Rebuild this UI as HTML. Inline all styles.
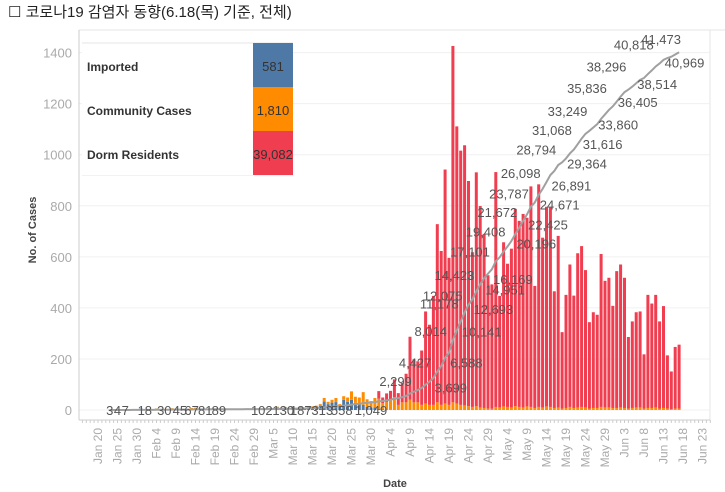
<!DOCTYPE html>
<html><head><meta charset="utf-8"><style>
body{margin:0;background:#fff;width:725px;height:492px;overflow:hidden}
svg{display:block}
text{font-family:"Liberation Sans","Noto Sans CJK KR",sans-serif}
</style></head><body>
<svg id="chart" width="725" height="492" viewBox="0 0 725 492" xmlns="http://www.w3.org/2000/svg">
<text x="8" y="17" font-size="15" fill="#222">☐ 코로나19 감염자 동향(6.18(목) 기준, 전체)</text>
<g id="grid"></g>
<g id="bars"></g>
<g id="line"></g>
<g id="labels"></g>
<g id="axes"></g>
<g>
<line x1="82" y1="43" x2="293" y2="43" stroke="#e4e4e4"/>
<line x1="82" y1="175" x2="293" y2="175" stroke="#e4e4e4"/>
<rect x="82" y="44" width="171" height="131" fill="#fff"/>
<rect x="253" y="43" width="40" height="44" fill="#4e79a7"/>
<rect x="253" y="87" width="40" height="44" fill="#ff8c00"/>
<rect x="253" y="131" width="40" height="44" fill="#f03e50"/>
<text x="87" y="71" font-size="12" font-weight="bold" fill="#333">Imported</text>
<text x="87" y="115" font-size="12" font-weight="bold" fill="#333">Community Cases</text>
<text x="87" y="159" font-size="12" font-weight="bold" fill="#333">Dorm Residents</text>
<text x="273" y="71" font-size="13" text-anchor="middle" fill="#333">581</text>
<text x="273" y="115" font-size="13" text-anchor="middle" fill="#333">1,810</text>
<text x="273" y="159" font-size="13" text-anchor="middle" fill="#333">39,082</text>
</g>
<text transform="translate(36,230) rotate(-90)" font-size="11" font-weight="bold" fill="#444" text-anchor="middle">No. of Cases</text>
<text x="395" y="487" font-size="11" font-weight="bold" fill="#444" text-anchor="middle">Date</text>
</svg>
<script>
// first bar = Jan 23 (day 3 after Jan 20)
const startDay = 3;
const imported = [
1,2,1,0,1,2,3,0,6,
0,0,0,0,0,0,0,0,0,0,0,0,0,0,0,0,0,0,0,0,0,0,0,0,0,0,0,0,0,
0,0,0,0,2,5,3,4,0,5,3,6,5,8,10,12,17,33,23,29,31,15,40,32,40,28,24,20,12,8,10,
4,2,1,1,0,0,0,0,0,0,0,0,0,0,0,0,0,0,0,0,0,0,0,0,0,0,0,0,0,0,
0,0,0,0,0,0,0,0,0,0,0,0,0,0,0,0,0,0,0,0,0,0,0,0,0,0,0,0,0,0,0,
0,0,0,0,0,0,0,0,0,0,0,0,0,0,0,0,0];
const community = [
0,0,0,0,0,0,0,0,0,
2,0,0,6,4,2,3,7,3,2,2,3,8,9,5,3,2,4,3,1,1,3,0,1,1,2,2,3,0,
4,2,2,2,5,8,5,8,0,5,3,6,4,4,4,5,6,14,9,11,16,8,14,17,33,24,25,50,30,27,37,
40,25,30,40,50,20,30,30,40,30,30,20,25,20,20,30,20,25,20,30,25,20,18,15,12,15,10,8,6,5,
12,10,14,12,10,15,12,10,14,12,8,12,10,14,12,8,10,6,8,12,8,10,12,10,6,8,8,12,10,10,8,
8,10,8,6,8,10,10,6,8,8,10,6,8,6,4,6,6];
const dorm = [
0,0,0,0,0,0,0,0,0,
0,0,0,0,0,0,0,0,0,0,0,0,0,0,0,0,0,0,0,0,0,0,0,0,0,0,0,0,0,
0,0,0,0,0,0,0,0,0,0,0,0,0,0,0,0,0,0,0,0,0,0,0,0,0,0,0,0,0,0,0,
30,22,34,34,70,46,76,112,247,168,161,213,361,314,427,698,603,917,576,1396,1086,996,1019,882,606,916,789,682,522,487,
920,437,643,561,622,773,729,758,739,864,478,872,665,782,781,457,672,299,443,558,440,604,630,538,338,375,365,599,496,508,400,
536,560,510,280,339,373,376,212,443,409,441,341,399,208,147,241,250];
const yTicks = [0,200,400,600,800,1000,1200,1400];
const xTickLabels = ["Jan 20","Jan 25","Jan 30","Feb 4","Feb 9","Feb 14","Feb 19","Feb 24","Feb 29","Mar 5","Mar 10","Mar 15","Mar 20","Mar 25","Mar 30","Apr 4","Apr 9","Apr 14","Apr 19","Apr 24","Apr 29","May 4","May 9","May 14","May 19","May 24","May 29","Jun 3","Jun 8","Jun 13","Jun 18","Jun 23"];
// cumulative labels: day since Jan 20, value, placement
const cumDays = [81,85,86,89,90,92,93,94,95,97,98,100,101,105,106,108,109,111,112,114,115,118,119,122,123,126,127,131,132,136,137,143,144,150];
const cumVals = [2299,3699,4427,6588,8014,10141,11178,12075,12693,14423,14951,16169,17101,19408,20196,21672,22425,23787,24671,26098,26891,28794,29364,31068,31616,33249,33860,35836,36405,38296,38514,40818,40969,41473];
const cumPos = ["a","b","a","b","a","b","a","a","b","a","b","b","a","a","b","a","b","a","b","a","b","a","b","a","b","a","b","a","b","a","b","a","b","a"];
const earlyDays = [3,5,7,12,17,21,24,27.5,31,42,47.5,52,57.5,62.5,70];
const earlyLabels = ["3","4","7","18","30","45","67","81","89","102","130","187","313","558","1,049"];

const NS="http://www.w3.org/2000/svg";
function x(d){return 98+d*3.9;}
function y(v){return 410-v*(357.4/1400);}
function ySec(v){return 410-v*(362/41473);}
function mk(tag,attrs,parent){const e=document.createElementNS(NS,tag);for(const k in attrs)e.setAttribute(k,attrs[k]);parent.appendChild(e);return e;}
const G=id=>document.getElementById(id);

// frame & grid
mk('line',{x1:79,y1:30,x2:725,y2:30,stroke:'#e6e6e6'},G('grid'));
mk('line',{x1:710,y1:30,x2:710,y2:420,stroke:'#e6e6e6'},G('grid'));
yTicks.forEach(v=>{
  const l=mk('line',{x1:79,x2:710,y1:y(v),y2:y(v),stroke:'#f0f0f0'},G('grid'));
  
  
  const t=mk('text',{x:72,y:y(v)+5,'font-size':13,fill:'#aaa','text-anchor':'end'},G('axes'));
  t.textContent=v;
  
  
});
mk('line',{x1:79,y1:30,x2:79,y2:420,stroke:'#ccc'},G('axes'));
mk('line',{x1:79,y1:420,x2:710,y2:420,stroke:'#ccc'},G('axes'));
for(let d=-4;d<=157;d++){mk('line',{x1:x(d),x2:x(d),y1:420,y2:423,stroke:'#ccc'},G('axes'));}
xTickLabels.forEach((s,i)=>{
  const xx=x(i*5)+4;
  const t=mk('text',{transform:`translate(${xx},428) rotate(-90)`,'font-size':12,fill:'#aaa','text-anchor':'end'},G('axes'));
  t.textContent=s;
  
  
});

// bars
const cum=[];let run=0;
for(let i=0;i<dorm.length;i++){
  const d=startDay+i, bx=x(d)-1.5;
  let base=0;
  [[imported[i],'#4e79a7','bar-imported'],[community[i],'#ff8c00','bar-community'],[dorm[i],'#f03e50','bar-dorm']].forEach(([v,c,n])=>{
    if(v>0){
      const r=mk('rect',{x:bx,width:3,y:y(base+v),height:y(base)-y(base+v),fill:c},G('bars'));
      
      
    }
    base+=v;
  });
  run+=imported[i]+community[i]+dorm[i];cum.push(run);
}
// cumulative line
const pts=cum.map((v,i)=>x(startDay+i)+','+ySec(v)).join(' ');
const pl=mk('polyline',{points:pts,fill:'none',stroke:'#a0a0a0','stroke-width':2},G('line'));



// labels
cumVals.forEach((v,i)=>{
  const xx=x(cumDays[i]),yy=ySec(v);
  const above=cumPos[i]==='a';
  const t=mk('text',{x:above?xx-2:xx+5,y:above?yy-4:yy+15,'font-size':13,fill:'#555','text-anchor':above?'end':'start'},G('labels'));
  t.textContent=v.toLocaleString('en-US');
  
  
});
earlyLabels.forEach((s,i)=>{
  const t=mk('text',{x:x(earlyDays[i]),y:415,'font-size':13,fill:'#555','text-anchor':'middle'},G('labels'));
  t.textContent=s;
  
  
});
</script>
</body></html>
